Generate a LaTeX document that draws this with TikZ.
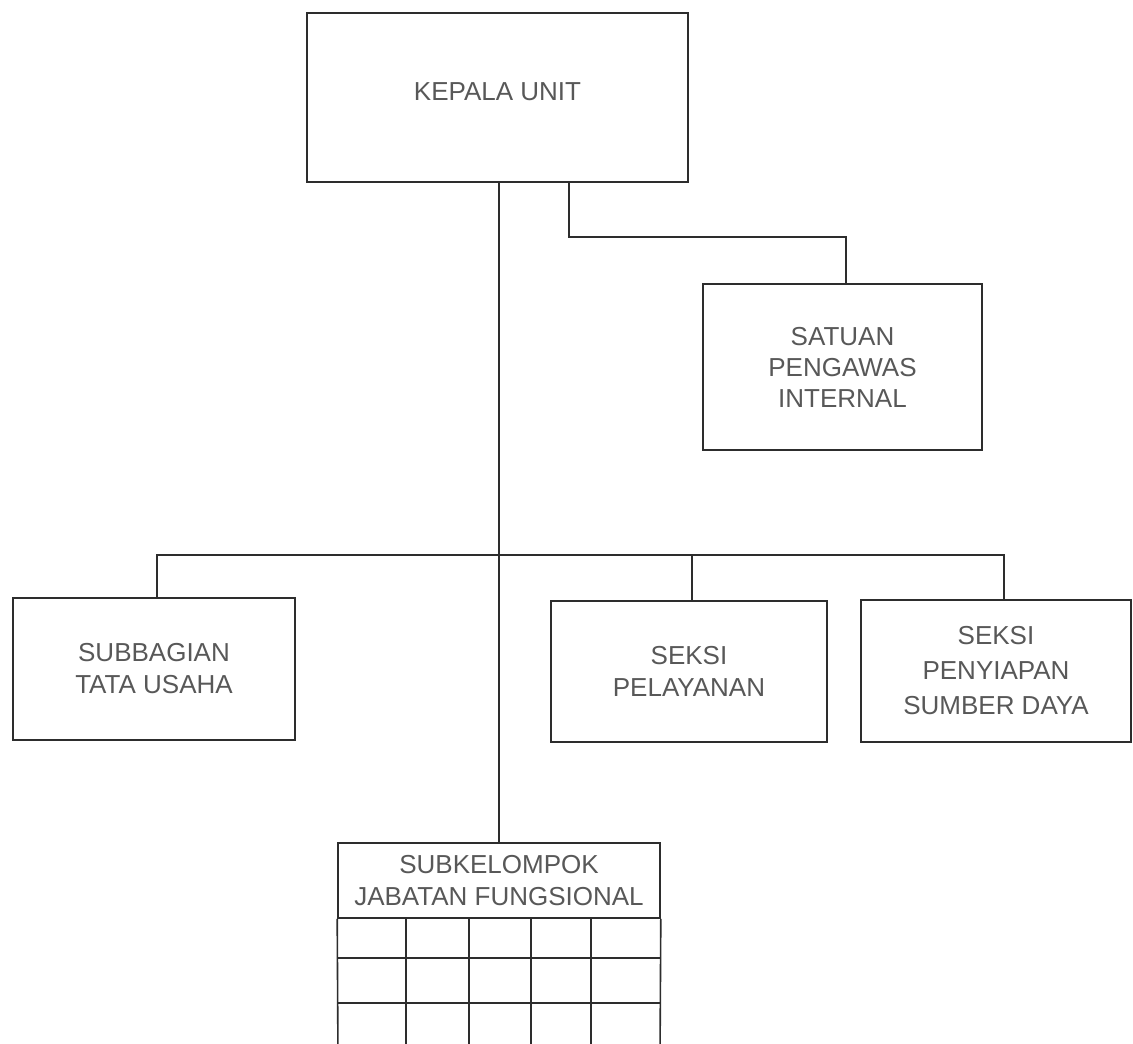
\documentclass[tikz,border=0pt]{standalone}
\usepackage{fontspec}
\setmainfont{Liberation Sans}
\usetikzlibrary{calc}
\definecolor{linec}{RGB}{45,45,45}
\definecolor{textc}{RGB}{88,88,88}
\begin{document}
\begin{tikzpicture}[x=1pt,y=-1pt,
  box/.style={draw=linec, line width=1.6pt, align=center, inner sep=0pt, text=textc, font=\fontsize{26}{32}\selectfont},
  conn/.style={draw=linec, line width=1.4pt},
  gridline/.style={draw=linec, line width=1.6pt}]
\useasboundingbox (0,0) rectangle (1133,1044);
\clip (0,0) rectangle (1133,1044);
\fill[white] (0,0) rectangle (1133,1044);

% boxes
\node[box, minimum width=381pt, minimum height=169pt, text height=18.6pt, text depth=12pt] (kepala) at (497.5,97.5) {KEPALA UNIT};
\node[box, minimum width=279pt, minimum height=166pt, font=\fontsize{26}{31}\selectfont] (satuan) at (842.5,367) {SATUAN\\PENGAWAS\\INTERNAL};
\node[box, minimum width=282pt, minimum height=142pt] (subbag) at (154,669) {SUBBAGIAN\\TATA USAHA};
\node[box, minimum width=276pt, minimum height=141pt] (pelay) at (689,671.5) {SEKSI\\PELAYANAN};
\node[box, minimum width=270pt, minimum height=142pt, font=\fontsize{26}{35}\selectfont] (penyiap) at (996,671) {SEKSI\\PENYIAPAN\\SUMBER DAYA};
\node[box, minimum width=322pt, minimum height=75pt] (subkel) at (499,880.5) {SUBKELOMPOK\\JABATAN FUNGSIONAL};

% grid below the functional group header
\draw[gridline] (subkel.south west) -- (338,1060);
\draw[gridline] (subkel.south east) -- (660,1060);
\foreach \gx in {406,469,531,591} \draw[gridline] (\gx,918) -- (\gx,1060);
\foreach \gy in {958,1003} \draw[gridline] (338,\gy) -- (660,\gy);

% bus coordinates
\coordinate (bus1) at (700,237);
\coordinate (bus2) at (499,555);

% connectors
\draw[conn] (subkel.north) -- (subkel.north |- kepala.south);
\draw[conn] ([xshift=71.5pt]kepala.south) |- (bus1) -| ([xshift=3.5pt]satuan.north);
\draw[conn] ([xshift=3pt]subbag.north) |- (bus2) -| ([xshift=8pt]penyiap.north);
\draw[conn] ([xshift=3pt]pelay.north) |- (bus2);
\end{tikzpicture}
\end{document}
